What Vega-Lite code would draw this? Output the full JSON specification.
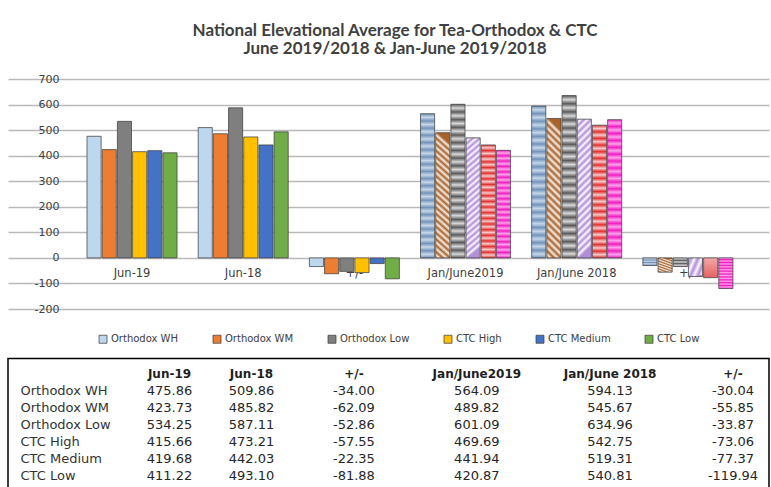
{
"$schema": "https://vega.github.io/schema/vega-lite/v6.json",
"background": "white",
"padding": {"left": 7, "top": 22, "right": 0, "bottom": 0},
"spacing": 43.5,
"config": {"view": {"stroke": null}, "font": "DejaVu Sans", "locale": {"number": {"decimal": ".", "thousands": ",", "grouping": [3], "currency": ["$", ""], "minus": "-"}}},
"datasets": {
"bars": [
{"series":"Orthodox WH","col":"Jun-19","period":"June","value":475.86},
{"series":"Orthodox WH","col":"Jun-18","period":"June","value":509.86},
{"series":"Orthodox WH","col":"+/- June","period":"June","value":-34.00},
{"series":"Orthodox WH","col":"Jan/June2019","period":"Jan-June","value":564.09},
{"series":"Orthodox WH","col":"Jan/June 2018","period":"Jan-June","value":594.13},
{"series":"Orthodox WH","col":"+/- Jan-June","period":"Jan-June","value":-30.04},
{"series":"Orthodox WM","col":"Jun-19","period":"June","value":423.73},
{"series":"Orthodox WM","col":"Jun-18","period":"June","value":485.82},
{"series":"Orthodox WM","col":"+/- June","period":"June","value":-62.09},
{"series":"Orthodox WM","col":"Jan/June2019","period":"Jan-June","value":489.82},
{"series":"Orthodox WM","col":"Jan/June 2018","period":"Jan-June","value":545.67},
{"series":"Orthodox WM","col":"+/- Jan-June","period":"Jan-June","value":-55.85},
{"series":"Orthodox Low","col":"Jun-19","period":"June","value":534.25},
{"series":"Orthodox Low","col":"Jun-18","period":"June","value":587.11},
{"series":"Orthodox Low","col":"+/- June","period":"June","value":-52.86},
{"series":"Orthodox Low","col":"Jan/June2019","period":"Jan-June","value":601.09},
{"series":"Orthodox Low","col":"Jan/June 2018","period":"Jan-June","value":634.96},
{"series":"Orthodox Low","col":"+/- Jan-June","period":"Jan-June","value":-33.87},
{"series":"CTC High","col":"Jun-19","period":"June","value":415.66},
{"series":"CTC High","col":"Jun-18","period":"June","value":473.21},
{"series":"CTC High","col":"+/- June","period":"June","value":-57.55},
{"series":"CTC High","col":"Jan/June2019","period":"Jan-June","value":469.69},
{"series":"CTC High","col":"Jan/June 2018","period":"Jan-June","value":542.75},
{"series":"CTC High","col":"+/- Jan-June","period":"Jan-June","value":-73.06},
{"series":"CTC Medium","col":"Jun-19","period":"June","value":419.68},
{"series":"CTC Medium","col":"Jun-18","period":"June","value":442.03},
{"series":"CTC Medium","col":"+/- June","period":"June","value":-22.35},
{"series":"CTC Medium","col":"Jan/June2019","period":"Jan-June","value":441.94},
{"series":"CTC Medium","col":"Jan/June 2018","period":"Jan-June","value":519.31},
{"series":"CTC Medium","col":"+/- Jan-June","period":"Jan-June","value":-77.37},
{"series":"CTC Low","col":"Jun-19","period":"June","value":411.22},
{"series":"CTC Low","col":"Jun-18","period":"June","value":493.10},
{"series":"CTC Low","col":"+/- June","period":"June","value":-81.88},
{"series":"CTC Low","col":"Jan/June2019","period":"Jan-June","value":420.87},
{"series":"CTC Low","col":"Jan/June 2018","period":"Jan-June","value":540.81},
{"series":"CTC Low","col":"+/- Jan-June","period":"Jan-June","value":-119.94}
],
"cols": [
{"col":"Jun-19","label":"Jun-19"},
{"col":"Jun-18","label":"Jun-18"},
{"col":"+/- June","label":"+/-"},
{"col":"Jan/June2019","label":"Jan/June2019"},
{"col":"Jan/June 2018","label":"Jan/June 2018"},
{"col":"+/- Jan-June","label":"+/-"}
]
},
"vconcat": [
{
"vconcat": [
{
"width": 761,
"height": 230,
"title": {"text": ["National Elevational Average for Tea-Orthodox & CTC", "June 2019/2018  & Jan-June 2019/2018"], "font": "Lato", "fontSize": 17, "fontWeight": "bold", "color": "#404040", "lineHeight": 18, "anchor": "middle", "frame": "group", "dx": 6.5, "offset": 15},
"layer": [
{
"data": {"name": "cols"},
"mark": {"type": "text", "fontSize": 11.5, "color": "#404040", "baseline": "middle", "dy": 16},
"encoding": {
"x": {"field": "col", "type": "nominal", "scale": {"domain": ["Jun-19","Jun-18","+/- June","Jan/June2019","Jan/June 2018","+/- Jan-June"], "paddingInner": 0.19, "paddingOuter": 0.5177, "align": 0.6864}, "axis": null},
"y": {"datum": 0, "type": "quantitative", "scale": {"domain": [-200, 700], "nice": false, "zero": false}, "axis": {"title": null, "values": [-200,-100,0,100,200,300,400,500,600,700], "grid": true, "gridColor": "#b9b9b9", "gridWidth": 1.5, "domain": false, "ticks": false, "tickSize": 0, "labelAlign": "right", "labelPadding": -51, "minExtent": 0, "maxExtent": 0, "labelFont": "DejaVu Sans", "labelFontSize": 11, "labelColor": "#404040"}},
"text": {"field": "label", "type": "nominal"}
}
},
{
"data": {"name": "bars"},
"transform": [{"filter": "datum.period === 'June'"}],
"mark": {"type": "bar", "stroke": "#404040", "strokeWidth": 0.75},
"encoding": {
"x": {"field": "col", "type": "nominal", "scale": {"domain": ["Jun-19","Jun-18","+/- June","Jan/June2019","Jan/June 2018","+/- Jan-June"], "paddingInner": 0.19, "paddingOuter": 0.5177, "align": 0.6864}, "axis": null},
"xOffset": {"field": "series", "type": "nominal", "scale": {"domain": ["Orthodox WH","Orthodox WM","Orthodox Low","CTC High","CTC Medium","CTC Low"], "paddingInner": 0.07, "paddingOuter": 0}},
"y": {"field": "value", "type": "quantitative", "scale": {"domain": [-200, 700], "nice": false, "zero": false}, "axis": {"title": null, "values": [-200,-100,0,100,200,300,400,500,600,700], "grid": true, "gridColor": "#b9b9b9", "gridWidth": 1.5, "domain": false, "ticks": false, "tickSize": 0, "labelAlign": "right", "labelPadding": -51, "minExtent": 0, "maxExtent": 0, "labelFont": "DejaVu Sans", "labelFontSize": 11, "labelColor": "#404040"}},
"color": {"field": "series", "type": "nominal", "scale": {"domain": ["Orthodox WH","Orthodox WM","Orthodox Low","CTC High","CTC Medium","CTC Low"], "range": ["#bdd7ee","#ed7d31","#7f7f7f","#ffc000","#4472c4","#70ad47"]}, "legend": {"orient": "none", "legendX": 90, "legendY": 255, "direction": "horizontal", "title": null, "symbolType": "square", "symbolSize": 64, "symbolStrokeColor": "#404040", "symbolStrokeWidth": 0.75, "labelFont": "DejaVu Sans", "labelFontSize": 10, "labelColor": "#404040", "columnPadding": 32, "labelOffset": 3, "padding": 0}}
}
},
{
"data": {"name": "bars"},
"transform": [{"filter": "datum.period === 'Jan-June'"}],
"mark": {"type": "bar", "stroke": "#404040", "strokeWidth": 0.75},
"encoding": {
"x": {"field": "col", "type": "nominal", "scale": {"domain": ["Jun-19","Jun-18","+/- June","Jan/June2019","Jan/June 2018","+/- Jan-June"], "paddingInner": 0.19, "paddingOuter": 0.5177, "align": 0.6864}, "axis": null},
"xOffset": {"field": "series", "type": "nominal", "scale": {"domain": ["Orthodox WH","Orthodox WM","Orthodox Low","CTC High","CTC Medium","CTC Low"], "paddingInner": 0.07, "paddingOuter": 0}},
"y": {"field": "value", "type": "quantitative", "scale": {"domain": [-200, 700], "nice": false, "zero": false}, "axis": {"title": null, "values": [-200,-100,0,100,200,300,400,500,600,700], "grid": true, "gridColor": "#b9b9b9", "gridWidth": 1.5, "domain": false, "ticks": false, "tickSize": 0, "labelAlign": "right", "labelPadding": -51, "minExtent": 0, "maxExtent": 0, "labelFont": "DejaVu Sans", "labelFontSize": 11, "labelColor": "#404040"}},
"fill": {
"condition": [
{"test": "datum.series === 'Orthodox WH'", "value": {"gradient": "linear", "x1": 0, "y1": 0, "x2": 0, "y2": 1, "stops": [{"offset":0,"color":"#7393ba"},{"offset":0.025,"color":"#c6d7ea"},{"offset":0.05,"color":"#7393ba"},{"offset":0.075,"color":"#c6d7ea"},{"offset":0.1,"color":"#7393ba"},{"offset":0.125,"color":"#c6d7ea"},{"offset":0.15,"color":"#7393ba"},{"offset":0.175,"color":"#c6d7ea"},{"offset":0.2,"color":"#7393ba"},{"offset":0.225,"color":"#c6d7ea"},{"offset":0.25,"color":"#7393ba"},{"offset":0.275,"color":"#c6d7ea"},{"offset":0.3,"color":"#7393ba"},{"offset":0.325,"color":"#c6d7ea"},{"offset":0.35,"color":"#7393ba"},{"offset":0.375,"color":"#c6d7ea"},{"offset":0.4,"color":"#7393ba"},{"offset":0.425,"color":"#c6d7ea"},{"offset":0.45,"color":"#7393ba"},{"offset":0.475,"color":"#c6d7ea"},{"offset":0.5,"color":"#7393ba"},{"offset":0.525,"color":"#c6d7ea"},{"offset":0.55,"color":"#7393ba"},{"offset":0.575,"color":"#c6d7ea"},{"offset":0.6,"color":"#7393ba"},{"offset":0.625,"color":"#c6d7ea"},{"offset":0.65,"color":"#7393ba"},{"offset":0.675,"color":"#c6d7ea"},{"offset":0.7,"color":"#7393ba"},{"offset":0.725,"color":"#c6d7ea"},{"offset":0.75,"color":"#7393ba"},{"offset":0.775,"color":"#c6d7ea"},{"offset":0.8,"color":"#7393ba"},{"offset":0.825,"color":"#c6d7ea"},{"offset":0.85,"color":"#7393ba"},{"offset":0.875,"color":"#c6d7ea"},{"offset":0.9,"color":"#7393ba"},{"offset":0.925,"color":"#c6d7ea"},{"offset":0.95,"color":"#7393ba"},{"offset":0.975,"color":"#c6d7ea"},{"offset":1,"color":"#7393ba"}]}},
{"test": "datum.series === 'Orthodox WM'", "value": {"gradient": "linear", "x1": 0, "y1": 1, "x2": 0.1, "y2": 0, "stops": [{"offset":0,"color":"#a8622c"},{"offset":0.025,"color":"#f7ede4"},{"offset":0.05,"color":"#a8622c"},{"offset":0.075,"color":"#f7ede4"},{"offset":0.1,"color":"#a8622c"},{"offset":0.125,"color":"#f7ede4"},{"offset":0.15,"color":"#a8622c"},{"offset":0.175,"color":"#f7ede4"},{"offset":0.2,"color":"#a8622c"},{"offset":0.225,"color":"#f7ede4"},{"offset":0.25,"color":"#a8622c"},{"offset":0.275,"color":"#f7ede4"},{"offset":0.3,"color":"#a8622c"},{"offset":0.325,"color":"#f7ede4"},{"offset":0.35,"color":"#a8622c"},{"offset":0.375,"color":"#f7ede4"},{"offset":0.4,"color":"#a8622c"},{"offset":0.425,"color":"#f7ede4"},{"offset":0.45,"color":"#a8622c"},{"offset":0.475,"color":"#f7ede4"},{"offset":0.5,"color":"#a8622c"},{"offset":0.525,"color":"#f7ede4"},{"offset":0.55,"color":"#a8622c"},{"offset":0.575,"color":"#f7ede4"},{"offset":0.6,"color":"#a8622c"},{"offset":0.625,"color":"#f7ede4"},{"offset":0.65,"color":"#a8622c"},{"offset":0.675,"color":"#f7ede4"},{"offset":0.7,"color":"#a8622c"},{"offset":0.725,"color":"#f7ede4"},{"offset":0.75,"color":"#a8622c"},{"offset":0.775,"color":"#f7ede4"},{"offset":0.8,"color":"#a8622c"},{"offset":0.825,"color":"#f7ede4"},{"offset":0.85,"color":"#a8622c"},{"offset":0.875,"color":"#f7ede4"},{"offset":0.9,"color":"#a8622c"},{"offset":0.925,"color":"#f7ede4"},{"offset":0.95,"color":"#a8622c"},{"offset":0.975,"color":"#f7ede4"},{"offset":1,"color":"#a8622c"}]}},
{"test": "datum.series === 'Orthodox Low'", "value": {"gradient": "linear", "x1": 0, "y1": 0, "x2": 0, "y2": 1, "stops": [{"offset":0,"color":"#5a5a5a"},{"offset":0.025,"color":"#d9d9d9"},{"offset":0.05,"color":"#5a5a5a"},{"offset":0.075,"color":"#d9d9d9"},{"offset":0.1,"color":"#5a5a5a"},{"offset":0.125,"color":"#d9d9d9"},{"offset":0.15,"color":"#5a5a5a"},{"offset":0.175,"color":"#d9d9d9"},{"offset":0.2,"color":"#5a5a5a"},{"offset":0.225,"color":"#d9d9d9"},{"offset":0.25,"color":"#5a5a5a"},{"offset":0.275,"color":"#d9d9d9"},{"offset":0.3,"color":"#5a5a5a"},{"offset":0.325,"color":"#d9d9d9"},{"offset":0.35,"color":"#5a5a5a"},{"offset":0.375,"color":"#d9d9d9"},{"offset":0.4,"color":"#5a5a5a"},{"offset":0.425,"color":"#d9d9d9"},{"offset":0.45,"color":"#5a5a5a"},{"offset":0.475,"color":"#d9d9d9"},{"offset":0.5,"color":"#5a5a5a"},{"offset":0.525,"color":"#d9d9d9"},{"offset":0.55,"color":"#5a5a5a"},{"offset":0.575,"color":"#d9d9d9"},{"offset":0.6,"color":"#5a5a5a"},{"offset":0.625,"color":"#d9d9d9"},{"offset":0.65,"color":"#5a5a5a"},{"offset":0.675,"color":"#d9d9d9"},{"offset":0.7,"color":"#5a5a5a"},{"offset":0.725,"color":"#d9d9d9"},{"offset":0.75,"color":"#5a5a5a"},{"offset":0.775,"color":"#d9d9d9"},{"offset":0.8,"color":"#5a5a5a"},{"offset":0.825,"color":"#d9d9d9"},{"offset":0.85,"color":"#5a5a5a"},{"offset":0.875,"color":"#d9d9d9"},{"offset":0.9,"color":"#5a5a5a"},{"offset":0.925,"color":"#d9d9d9"},{"offset":0.95,"color":"#5a5a5a"},{"offset":0.975,"color":"#d9d9d9"},{"offset":1,"color":"#5a5a5a"}]}},
{"test": "datum.series === 'CTC High'", "value": {"gradient": "linear", "x1": 0, "y1": 0, "x2": 0.1, "y2": 1, "stops": [{"offset":0,"color":"#b08fd8"},{"offset":0.025,"color":"#fbf8fe"},{"offset":0.05,"color":"#b08fd8"},{"offset":0.075,"color":"#fbf8fe"},{"offset":0.1,"color":"#b08fd8"},{"offset":0.125,"color":"#fbf8fe"},{"offset":0.15,"color":"#b08fd8"},{"offset":0.175,"color":"#fbf8fe"},{"offset":0.2,"color":"#b08fd8"},{"offset":0.225,"color":"#fbf8fe"},{"offset":0.25,"color":"#b08fd8"},{"offset":0.275,"color":"#fbf8fe"},{"offset":0.3,"color":"#b08fd8"},{"offset":0.325,"color":"#fbf8fe"},{"offset":0.35,"color":"#b08fd8"},{"offset":0.375,"color":"#fbf8fe"},{"offset":0.4,"color":"#b08fd8"},{"offset":0.425,"color":"#fbf8fe"},{"offset":0.45,"color":"#b08fd8"},{"offset":0.475,"color":"#fbf8fe"},{"offset":0.5,"color":"#b08fd8"},{"offset":0.525,"color":"#fbf8fe"},{"offset":0.55,"color":"#b08fd8"},{"offset":0.575,"color":"#fbf8fe"},{"offset":0.6,"color":"#b08fd8"},{"offset":0.625,"color":"#fbf8fe"},{"offset":0.65,"color":"#b08fd8"},{"offset":0.675,"color":"#fbf8fe"},{"offset":0.7,"color":"#b08fd8"},{"offset":0.725,"color":"#fbf8fe"},{"offset":0.75,"color":"#b08fd8"},{"offset":0.775,"color":"#fbf8fe"},{"offset":0.8,"color":"#b08fd8"},{"offset":0.825,"color":"#fbf8fe"},{"offset":0.85,"color":"#b08fd8"},{"offset":0.875,"color":"#fbf8fe"},{"offset":0.9,"color":"#b08fd8"},{"offset":0.925,"color":"#fbf8fe"},{"offset":0.95,"color":"#b08fd8"},{"offset":0.975,"color":"#fbf8fe"},{"offset":1,"color":"#b08fd8"}]}},
{"test": "datum.series === 'CTC Medium'", "value": {"gradient": "linear", "x1": 0, "y1": 0, "x2": 0, "y2": 1, "stops": [{"offset":0,"color":"#e0302f"},{"offset":0.025,"color":"#f8caca"},{"offset":0.05,"color":"#e0302f"},{"offset":0.075,"color":"#f8caca"},{"offset":0.1,"color":"#e0302f"},{"offset":0.125,"color":"#f8caca"},{"offset":0.15,"color":"#e0302f"},{"offset":0.175,"color":"#f8caca"},{"offset":0.2,"color":"#e0302f"},{"offset":0.225,"color":"#f8caca"},{"offset":0.25,"color":"#e0302f"},{"offset":0.275,"color":"#f8caca"},{"offset":0.3,"color":"#e0302f"},{"offset":0.325,"color":"#f8caca"},{"offset":0.35,"color":"#e0302f"},{"offset":0.375,"color":"#f8caca"},{"offset":0.4,"color":"#e0302f"},{"offset":0.425,"color":"#f8caca"},{"offset":0.45,"color":"#e0302f"},{"offset":0.475,"color":"#f8caca"},{"offset":0.5,"color":"#e0302f"},{"offset":0.525,"color":"#f8caca"},{"offset":0.55,"color":"#e0302f"},{"offset":0.575,"color":"#f8caca"},{"offset":0.6,"color":"#e0302f"},{"offset":0.625,"color":"#f8caca"},{"offset":0.65,"color":"#e0302f"},{"offset":0.675,"color":"#f8caca"},{"offset":0.7,"color":"#e0302f"},{"offset":0.725,"color":"#f8caca"},{"offset":0.75,"color":"#e0302f"},{"offset":0.775,"color":"#f8caca"},{"offset":0.8,"color":"#e0302f"},{"offset":0.825,"color":"#f8caca"},{"offset":0.85,"color":"#e0302f"},{"offset":0.875,"color":"#f8caca"},{"offset":0.9,"color":"#e0302f"},{"offset":0.925,"color":"#f8caca"},{"offset":0.95,"color":"#e0302f"},{"offset":0.975,"color":"#f8caca"},{"offset":1,"color":"#e0302f"}]}},
{"test": "datum.series === 'CTC Low'", "value": {"gradient": "linear", "x1": 0, "y1": 0, "x2": 0, "y2": 1, "stops": [{"offset":0,"color":"#f01ec4"},{"offset":0.025,"color":"#ffa2ea"},{"offset":0.05,"color":"#f01ec4"},{"offset":0.075,"color":"#ffa2ea"},{"offset":0.1,"color":"#f01ec4"},{"offset":0.125,"color":"#ffa2ea"},{"offset":0.15,"color":"#f01ec4"},{"offset":0.175,"color":"#ffa2ea"},{"offset":0.2,"color":"#f01ec4"},{"offset":0.225,"color":"#ffa2ea"},{"offset":0.25,"color":"#f01ec4"},{"offset":0.275,"color":"#ffa2ea"},{"offset":0.3,"color":"#f01ec4"},{"offset":0.325,"color":"#ffa2ea"},{"offset":0.35,"color":"#f01ec4"},{"offset":0.375,"color":"#ffa2ea"},{"offset":0.4,"color":"#f01ec4"},{"offset":0.425,"color":"#ffa2ea"},{"offset":0.45,"color":"#f01ec4"},{"offset":0.475,"color":"#ffa2ea"},{"offset":0.5,"color":"#f01ec4"},{"offset":0.525,"color":"#ffa2ea"},{"offset":0.55,"color":"#f01ec4"},{"offset":0.575,"color":"#ffa2ea"},{"offset":0.6,"color":"#f01ec4"},{"offset":0.625,"color":"#ffa2ea"},{"offset":0.65,"color":"#f01ec4"},{"offset":0.675,"color":"#ffa2ea"},{"offset":0.7,"color":"#f01ec4"},{"offset":0.725,"color":"#ffa2ea"},{"offset":0.75,"color":"#f01ec4"},{"offset":0.775,"color":"#ffa2ea"},{"offset":0.8,"color":"#f01ec4"},{"offset":0.825,"color":"#ffa2ea"},{"offset":0.85,"color":"#f01ec4"},{"offset":0.875,"color":"#ffa2ea"},{"offset":0.9,"color":"#f01ec4"},{"offset":0.925,"color":"#ffa2ea"},{"offset":0.95,"color":"#f01ec4"},{"offset":0.975,"color":"#ffa2ea"},{"offset":1,"color":"#f01ec4"}]}}
],
"value": "#cccccc"
}
}
}
]
}
]
},
{
"width": 761,
"height": 130,
"view": {"stroke": "#000000", "strokeWidth": 1.5},
"layer": [
{
"data": {"name": "cols"},
"mark": {"type": "text", "font": "DejaVu Sans", "fontWeight": "bold", "fontSize": 12, "color": "#1e1e1e", "align": "center", "baseline": "middle"},
"encoding": {
"x": {"field": "col", "type": "nominal", "scale": {"type": "point", "padding": 0, "range": [161.5, 725], "domain": ["Jun-19","f1","f2","f3","f4","f5","f6","f7","Jun-18","f8","f9","f10","f11","f12","f13","f14","f15","f16","+/- June","f17","f18","f19","f20","f21","f22","f23","f24","f25","f26","f27","Jan/June2019","f28","f29","f30","f31","f32","f33","f34","f35","f36","f37","f38","f39","Jan/June 2018","f40","f41","f42","f43","f44","f45","f46","f47","f48","f49","f50","+/- Jan-June"]}, "axis": null},
"y": {"datum": "header", "type": "nominal", "scale": {"type": "point", "padding": 0, "range": [15, 117], "domain": ["header","Orthodox WH","Orthodox WM","Orthodox Low","CTC High","CTC Medium","CTC Low"]}, "axis": {"title": null, "orient": "left", "values": ["Orthodox WH","Orthodox WM","Orthodox Low","CTC High","CTC Medium","CTC Low"], "domain": false, "ticks": false, "tickSize": 0, "labelAlign": "left", "labelBaseline": "middle", "labelPadding": -12, "minExtent": 0, "maxExtent": 0, "labelFont": "DejaVu Sans", "labelFontSize": 13, "labelColor": "#333333"}},
"text": {"field": "label", "type": "nominal"}
}
},
{
"data": {"name": "bars"},
"mark": {"type": "text", "font": "DejaVu Sans", "fontSize": 13, "color": "#262626", "align": "center", "baseline": "middle"},
"encoding": {
"x": {"field": "col", "type": "nominal", "scale": {"type": "point", "padding": 0, "range": [161.5, 725], "domain": ["Jun-19","f1","f2","f3","f4","f5","f6","f7","Jun-18","f8","f9","f10","f11","f12","f13","f14","f15","f16","+/- June","f17","f18","f19","f20","f21","f22","f23","f24","f25","f26","f27","Jan/June2019","f28","f29","f30","f31","f32","f33","f34","f35","f36","f37","f38","f39","Jan/June 2018","f40","f41","f42","f43","f44","f45","f46","f47","f48","f49","f50","+/- Jan-June"]}, "axis": null},
"y": {"field": "series", "type": "nominal", "scale": {"type": "point", "padding": 0, "range": [15, 117], "domain": ["header","Orthodox WH","Orthodox WM","Orthodox Low","CTC High","CTC Medium","CTC Low"]}, "axis": {"title": null, "orient": "left", "values": ["Orthodox WH","Orthodox WM","Orthodox Low","CTC High","CTC Medium","CTC Low"], "domain": false, "ticks": false, "tickSize": 0, "labelAlign": "left", "labelBaseline": "middle", "labelPadding": -12, "minExtent": 0, "maxExtent": 0, "labelFont": "DejaVu Sans", "labelFontSize": 13, "labelColor": "#333333"}},
"text": {"field": "value", "type": "quantitative", "format": ".2f"}
}
}
]
}
]
}
